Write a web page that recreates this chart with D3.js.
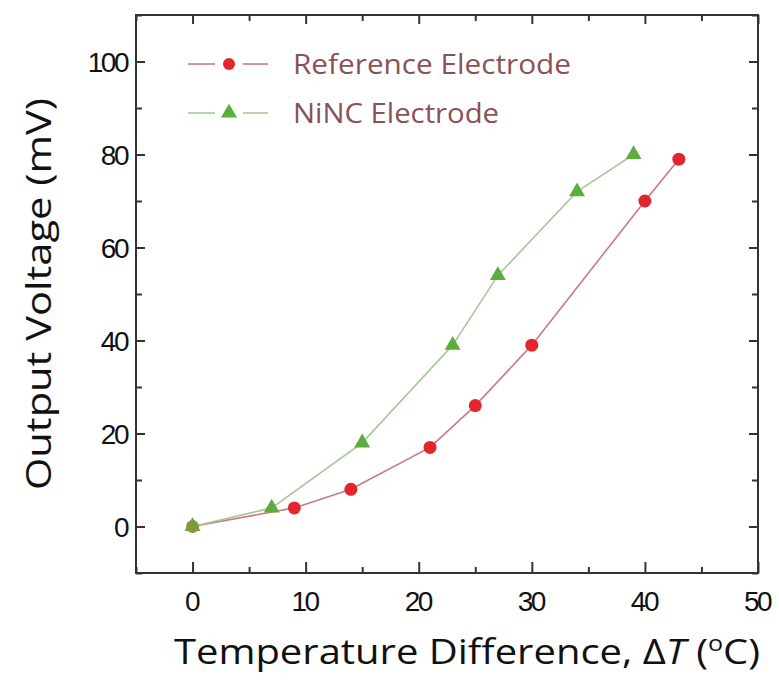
<!DOCTYPE html>
<html><head><meta charset="utf-8">
<script src="https://cdn.jsdelivr.net/npm/d3@7"></script>
<style>body{margin:0;background:#fff}svg{display:block}</style>
</head><body>
<script>
const refX = [0, 9, 14, 21, 25, 30, 40, 43];
const refY = [0, 4, 8, 17, 26, 39, 70, 79];
const nincX = [0, 7, 15, 23, 27, 34, 39];
const nincY = [0, 4, 18, 39, 54, 72, 80];
const xTicks = [0, 10, 20, 30, 40, 50];
const yTicks = [0, 20, 40, 60, 80, 100];
const xMinor = [-5, 5, 15, 25, 35, 45];
const yMinor = [-10, 10, 30, 50, 70, 90, 110];
const seriesNames = ["Reference Electrode", "NiNC Electrode"];

const W = 779, H = 686;
const L = 136, R = 758, T = 15, B = 573;
const svg = d3.select("body").append("svg").attr("width", W).attr("height", H);
const x = d3.scaleLinear().domain([-5, 50]).range([L, R]);
const y = d3.scaleLinear().domain([-10, 110]).range([B, T]);

const axisColor = "#333";
function styleAxis(g){
  g.select(".domain").remove();
  g.selectAll("line").attr("stroke", axisColor).attr("stroke-width", 2);
}
svg.append("g").attr("transform",`translate(0,${B})`)
  .call(d3.axisBottom(x).tickValues(xTicks).tickSize(-11).tickFormat(""))
  .call(styleAxis);
svg.append("g").attr("transform",`translate(0,${B})`)
  .call(d3.axisBottom(x).tickValues(xMinor).tickSize(-6).tickFormat(""))
  .call(styleAxis);
svg.append("g").attr("transform",`translate(0,${T})`)
  .call(d3.axisTop(x).tickValues(xTicks).tickSize(-9).tickFormat(""))
  .call(styleAxis);
svg.append("g").attr("transform",`translate(0,${T})`)
  .call(d3.axisTop(x).tickValues(xMinor).tickSize(-6).tickFormat(""))
  .call(styleAxis);
svg.append("g").attr("transform",`translate(${L},0)`)
  .call(d3.axisLeft(y).tickValues(yTicks).tickSize(-9).tickFormat(""))
  .call(styleAxis);
svg.append("g").attr("transform",`translate(${L},0)`)
  .call(d3.axisLeft(y).tickValues(yMinor).tickSize(-6).tickFormat(""))
  .call(styleAxis);
svg.append("g").attr("transform",`translate(${R},0)`)
  .call(d3.axisRight(y).tickValues(yTicks).tickSize(-9).tickFormat(""))
  .call(styleAxis);
svg.append("g").attr("transform",`translate(${R},0)`)
  .call(d3.axisRight(y).tickValues(yMinor).tickSize(-6).tickFormat(""))
  .call(styleAxis);

svg.append("rect").attr("x", L).attr("y", T).attr("width", R-L).attr("height", B-T)
  .attr("fill","none").attr("stroke", axisColor).attr("stroke-width", 2);

const tickFont = "'Liberation Sans', Arial, sans-serif";
svg.append("g").selectAll("text").data(xTicks).join("text")
  .attr("x", d => x(d) - 1).attr("y", 611)
  .attr("text-anchor","middle")
  .attr("font-family", tickFont).attr("font-size", 28).attr("letter-spacing", -2.5)
  .attr("fill","#111").text(d => d);
svg.append("g").selectAll("text").data(yTicks).join("text")
  .attr("x", 127).attr("y", d => y(d) + 10)
  .attr("text-anchor","end")
  .attr("font-family", tickFont).attr("font-size", 28).attr("letter-spacing", -2.5)
  .attr("fill","#111").text(d => d);

const titleFont = "'Open Sans', 'Noto Sans', sans-serif";
const xt = svg.append("text").attr("x", 467).attr("y", 664).attr("text-anchor","middle")
  .attr("font-family", titleFont).attr("font-size", 35).attr("fill","#111")
  .attr("textLength", 586).attr("lengthAdjust","spacingAndGlyphs");
xt.append("tspan").text("Temperature Difference, \u0394");
xt.append("tspan").attr("font-style","italic").text("T");
xt.append("tspan").text(" (");
xt.append("tspan").attr("font-size", 22).attr("dy", -13).text("o");
xt.append("tspan").attr("dy", 13).text("C)");

svg.append("text").attr("transform", `translate(51,${(T+B)/2}) rotate(-90)`)
  .attr("text-anchor","middle")
  .attr("font-family", titleFont).attr("font-size", 35).attr("fill","#111")
  .attr("textLength", 392).attr("lengthAdjust","spacingAndGlyphs")
  .text("Output Voltage (mV)");

const refColor = "#e3262e", refLine = "#c97a80";
const nincColor = "#5cae3c", nincLine = "#a9c79a";
const line = d3.line().x(d => x(d[0])).y(d => y(d[1]));
const refData = refX.map((v,i) => [v, refY[i]]);
const nincData = nincX.map((v,i) => [v, nincY[i]]);
svg.append("path").datum(refData).attr("d", line).attr("fill","none")
  .attr("stroke", refLine).attr("stroke-width", 1.6);
svg.append("path").datum(nincData).attr("d", line).attr("fill","none")
  .attr("stroke", nincLine).attr("stroke-width", 1.6);

const tri = d3.symbol().type(d3.symbolTriangle).size(110);
svg.append("g").selectAll("path").data(nincData).join("path")
  .attr("transform", d => `translate(${x(d[0])},${y(d[1])})`)
  .attr("d", tri).attr("fill", nincColor);
svg.append("g").selectAll("circle").data(refData).join("circle")
  .attr("cx", d => x(d[0])).attr("cy", d => y(d[1])).attr("r", 6.5)
  .attr("fill", (d,i) => i === 0 ? "#7f9a3a" : refColor);

const legend = [
  {name: seriesNames[0], y: 64, line: refLine, color: refColor, sym: "circle"},
  {name: seriesNames[1], y: 113, line: nincLine, color: nincColor, sym: "tri"}
];
const lg = svg.append("g").selectAll("g").data(legend).join("g")
  .attr("transform", d => `translate(0,${d.y})`);
lg.append("line").attr("x1",188).attr("x2",215).attr("stroke", d => d.line).attr("stroke-width",1.6);
lg.append("line").attr("x1",243).attr("x2",268).attr("stroke", d => d.line).attr("stroke-width",1.6);
lg.each(function(d){
  const g = d3.select(this);
  if (d.sym === "circle") g.append("circle").attr("cx",229).attr("r",6).attr("fill", d.color);
  else g.append("path").attr("transform","translate(229,0)").attr("d", tri).attr("fill", d.color);
});
lg.append("text").attr("x", 293).attr("y", 10)
  .attr("font-family", titleFont).attr("font-size", 28).attr("fill", "#8a5156")
  .attr("textLength", (d,i) => i === 0 ? 278 : 206).attr("lengthAdjust","spacingAndGlyphs")
  .text(d => d.name);
</script>
</body></html>
